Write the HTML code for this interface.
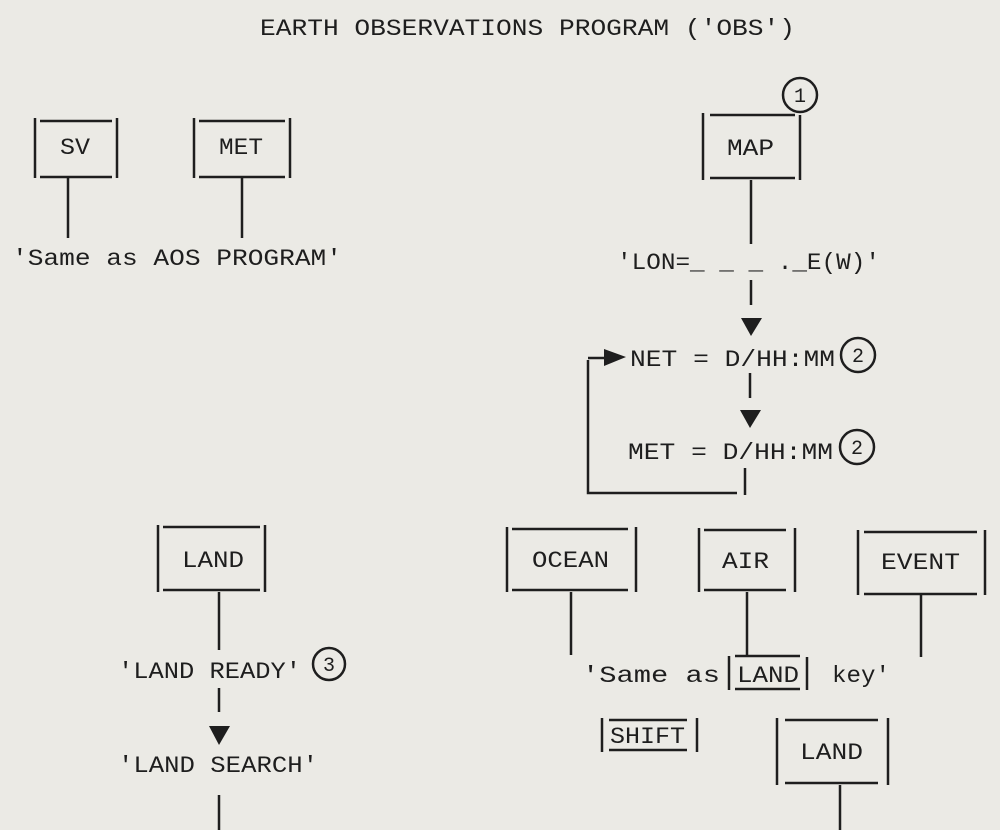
<!DOCTYPE html>
<html><head><style>html,body{margin:0;padding:0;background:#ebeae5}</style></head>
<body>
<svg width="1000" height="830" xmlns="http://www.w3.org/2000/svg" style="display:block">
<rect width="1000" height="830" fill="#ebeae5"/>
<g font-family="Liberation Mono, monospace" fill="#1e1e1e" font-size="23">
<text x="260" y="35" textLength="535" lengthAdjust="spacingAndGlyphs">EARTH OBSERVATIONS PROGRAM ('OBS')</text>
<text x="60" y="154" textLength="30" lengthAdjust="spacingAndGlyphs">SV</text>
<text x="219" y="154" textLength="44" lengthAdjust="spacingAndGlyphs">MET</text>
<text x="12" y="265" textLength="330" lengthAdjust="spacingAndGlyphs">'Same as AOS PROGRAM'</text>
<text x="727" y="155" textLength="47" lengthAdjust="spacingAndGlyphs">MAP</text>
<text x="617" y="269" textLength="263" lengthAdjust="spacingAndGlyphs">'LON=_ _ _ ._E(W)'</text>
<text x="630" y="366" textLength="205" lengthAdjust="spacingAndGlyphs">NET = D/HH:MM</text>
<text x="628" y="459" textLength="205" lengthAdjust="spacingAndGlyphs">MET = D/HH:MM</text>
<text x="182" y="567" textLength="62" lengthAdjust="spacingAndGlyphs">LAND</text>
<text x="118" y="678" textLength="183" lengthAdjust="spacingAndGlyphs">'LAND READY'</text>
<text x="118" y="772" textLength="200" lengthAdjust="spacingAndGlyphs">'LAND SEARCH'</text>
<text x="532" y="567" textLength="77" lengthAdjust="spacingAndGlyphs">OCEAN</text>
<text x="722" y="568" textLength="47" lengthAdjust="spacingAndGlyphs">AIR</text>
<text x="881" y="569" textLength="79" lengthAdjust="spacingAndGlyphs">EVENT</text>
<text x="582" y="682" textLength="138" lengthAdjust="spacingAndGlyphs">'Same as</text>
<text x="737" y="682" textLength="62" lengthAdjust="spacingAndGlyphs">LAND</text>
<text x="832" y="682" textLength="58" lengthAdjust="spacingAndGlyphs">key'</text>
<text x="610" y="743" textLength="75" lengthAdjust="spacingAndGlyphs">SHIFT</text>
<text x="800" y="759" textLength="63" lengthAdjust="spacingAndGlyphs">LAND</text>
<text x="800" y="102" font-size="20" text-anchor="middle">1</text>
<text x="858" y="362" font-size="20" text-anchor="middle">2</text>
<text x="857" y="454" font-size="20" text-anchor="middle">2</text>
<text x="329" y="671" font-size="20" text-anchor="middle">3</text>
</g>
<g stroke="#1e1e1e" stroke-width="2.5" fill="none">
<path d="M35 118V178M117 118V178M40 121H112M40 177H112"/>
<path d="M194 118V178M290 118V178M199 121H285M199 177H285"/>
<path d="M68 178V238M242 178V238"/>
<path d="M703 113V180M800 115V180M710 115H795M710 178H795"/>
<circle cx="800" cy="95" r="17"/>
<path d="M751 180V244M751 280V305M750 373V398M745 468V495"/>
<circle cx="858" cy="355" r="17"/>
<circle cx="857" cy="447" r="17"/>
<path d="M588 360V493H737M588 358H605"/>
<path d="M158 525V592M265 525V592M163 527H260M163 590H260"/>
<path d="M219 592V650M219 688V712M219 795V830"/>
<circle cx="329" cy="664" r="16"/>
<path d="M507 527V592M636 527V592M512 529H628M512 590H628"/>
<path d="M699 528V592M795 528V592M704 530H786M704 590H786"/>
<path d="M858 530V595M985 530V595M864 532H977M864 594H977"/>
<path d="M571 592V655M747 592V656M921 595V657"/>
<path d="M729 656V690M807 657V690M735 656H800M735 689H800"/>
<path d="M602 718V752M697 718V752M609 720H687M609 750H687"/>
<path d="M777 718V785M888 718V785M785 720H878M785 783H878M840 785V830"/>
</g>
<g fill="#1e1e1e">
<path d="M741 318H762L751 336Z"/>
<path d="M740 410H761L750 428Z"/>
<path d="M209 726H230L219 745Z"/>
<path d="M604 349L626 357L604 366Z"/>
</g>
</svg>
</body></html>
